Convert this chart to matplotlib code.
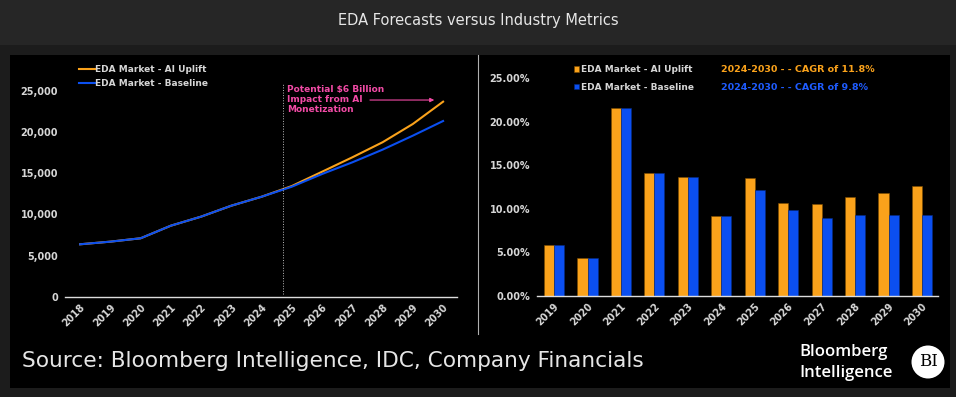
import matplotlib
matplotlib.use("Agg")
import matplotlib.pyplot as plt
from matplotlib import font_manager
from matplotlib.patches import Rectangle, Ellipse
from matplotlib.lines import Line2D
import numpy as np

# data
years = [2018, 2019, 2020, 2021, 2022, 2023, 2024, 2025, 2026, 2027, 2028, 2029, 2030]
baseline = [6370, 6690, 7100, 8630, 9730, 11060, 12150, 13370, 14910, 16330, 17870, 19570, 21350]
uplift = [6370, 6690, 7100, 8630, 9730, 11060, 12150, 13450, 15190, 16940, 18770, 20990, 23700]

bar_years = ['2019', '2020', '2021', '2022', '2023', '2024', '2025', '2026', '2027', '2028', '2029', '2030']
growth_uplift = [5.77, 4.31, 21.58, 14.04, 13.65, 9.12, 13.54, 10.69, 10.5, 11.31, 11.81, 12.62]
growth_base = [5.77, 4.31, 21.58, 14.04, 13.65, 9.12, 12.15, 9.85, 8.92, 9.31, 9.31, 9.31]

ORANGE = '#FAA21B'
BLUE = '#0B4FF0'
PINK = '#F24BA6'
TXT = '#d6d6d6'

names = {f.name for f in font_manager.fontManager.ttflist}
narrow = 'Liberation Sans Narrow' if 'Liberation Sans Narrow' in names else 'DejaVu Sans'

W, H = 956, 397
fig = plt.figure(figsize=(W / 100, H / 100), dpi=100, facecolor='#1c1c1c')


def px(x0, y0, x1, y1):
    # pixel box (top-left origin) -> figure fraction
    return [x0 / W, 1 - y1 / H, (x1 - x0) / W, (y1 - y0) / H]


fig.add_artist(Rectangle((0, 1 - 45 / H), 1, 45 / H, transform=fig.transFigure,
                         facecolor='#262626', edgecolor='none', zorder=0))
fig.add_artist(Rectangle((10 / W, 1 - 388 / H), 940 / W, 333 / H, transform=fig.transFigure,
                         facecolor='black', edgecolor='none', zorder=0))
fig.add_artist(Line2D([478 / W, 478 / W], [1 - 334 / H, 1 - 55 / H], transform=fig.transFigure,
                      color='#b0b0b0', lw=0.8))

fig.text(0.5, 1 - 21 / H, 'EDA Forecasts versus Industry Metrics', ha='center', va='center',
         color='#e6e6e6', fontsize=10.5, family=narrow)

# left: line chart
ax1 = fig.add_axes(px(65, 70.4, 457, 296.7))
ax1.set_facecolor('none')
ax1.plot(years, uplift, color=ORANGE, lw=1.5, label='EDA Market - AI Uplift')
ax1.plot(years, baseline, color=BLUE, lw=1.5, label='EDA Market - Baseline')
ax1.set_xlim(2017.5, 2030.46)
ax1.set_ylim(0, 27500)
ax1.set_yticks([0, 5000, 10000, 15000, 20000, 25000])
ax1.set_yticklabels(['0', '5,000', '10,000', '15,000', '20,000', '25,000'])
ax1.set_xticks(years)
ax1.set_xticklabels([str(y) for y in years], rotation=45, ha='right', rotation_mode='anchor')
ax1.axvline(2024.7, ymin=330 / 27500, ymax=26000 / 27500, color='#bbbbbb', lw=0.7, ls=':')
ax1.text(2024.84, 25700, 'Potential $6 Billion\nImpact from AI\nMonetization', color=PINK,
         fontsize=6.5, fontweight='bold', va='top', ha='left', linespacing=1.15)
ax1.annotate('', xy=(2029.8, 23900), xytext=(2027.49, 23900),
             arrowprops=dict(arrowstyle='-|>', color=PINK, lw=0.8, mutation_scale=6))
leg1 = ax1.legend(loc='upper left', bbox_to_anchor=(79 / W, 1 - 65 / H), bbox_transform=fig.transFigure,
                  frameon=False, fontsize=6.5, handlelength=1.75, handletextpad=0.05, labelspacing=0.55,
                  borderpad=0, borderaxespad=0)
for t in leg1.get_texts():
    t.set_color(TXT)
    t.set_fontweight('bold')

# right: bar chart
ax2 = fig.add_axes(px(537, 65, 938, 295.7))
ax2.set_facecolor('none')
xi = np.arange(len(bar_years))
ax2.bar(xi - 0.15, growth_uplift, width=0.3, color=ORANGE, edgecolor='#7a4a00', lw=0.4,
        label='EDA Market - AI Uplift')
ax2.bar(xi + 0.15, growth_base, width=0.3, color=BLUE, edgecolor='#062a80', lw=0.4,
        label='EDA Market - Baseline')
ax2.set_xlim(-0.51, 11.48)
ax2.set_ylim(0, 26.5)
ax2.set_yticks([0, 5, 10, 15, 20, 25])
ax2.set_yticklabels(['0.00%', '5.00%', '10.00%', '15.00%', '20.00%', '25.00%'])
ax2.set_xticks(xi)
ax2.set_xticklabels(bar_years, rotation=45, ha='right', rotation_mode='anchor')
leg2 = ax2.legend(loc='upper left', bbox_to_anchor=(574 / W, 1 - 65 / H), bbox_transform=fig.transFigure,
                  frameon=False, fontsize=6.5, handlelength=0.6, handleheight=0.6, handletextpad=0.2,
                  labelspacing=0.95, borderpad=0, borderaxespad=0)
for t in leg2.get_texts():
    t.set_color(TXT)
    t.set_fontweight('bold')
fig.text(721 / W, 1 - 69 / H, '2024-2030 - - CAGR of 11.8%', color=ORANGE, fontsize=6.8,
         fontweight='bold', va='center')
fig.text(721 / W, 1 - 88 / H, '2024-2030 - - CAGR of 9.8%', color='#1F5CFF', fontsize=6.8,
         fontweight='bold', va='center')

for ax in (ax1, ax2):
    for s in ('top', 'right', 'left'):
        ax.spines[s].set_visible(False)
    ax.spines['bottom'].set_color('#dddddd')
    ax.spines['bottom'].set_linewidth(1.0)
    ax.tick_params(length=0, colors=TXT, labelsize=7)
    ax.tick_params(axis='y', pad=5)
    ax.tick_params(axis='x', pad=4)
    for lab in ax.get_xticklabels() + ax.get_yticklabels():
        lab.set_fontweight('bold')

# footer
fig.text(22 / W, 1 - 361 / H, 'Source: Bloomberg Intelligence, IDC, Company Financials', color='#e6e6e6',
         fontsize=15.6, family=narrow, va='center')
fig.text(799 / W, 1 - 352 / H, 'Bloomberg', color='white', fontsize=12, family='Open Sans',
         fontweight='semibold', va='center')
fig.text(799 / W, 1 - 373 / H, 'Intelligence', color='white', fontsize=12, family='Open Sans',
         fontweight='semibold', va='center')
fig.add_artist(Ellipse((928 / W, 1 - 362 / H), 33 / W, 33 / H, transform=fig.transFigure,
                       facecolor='white', edgecolor='none'))
fig.text(928 / W, 1 - 362 / H, 'BI', color='black', fontsize=12, family='DejaVu Serif',
         ha='center', va='center')

fig.savefig('out.png', dpi=100, facecolor=fig.get_facecolor())
